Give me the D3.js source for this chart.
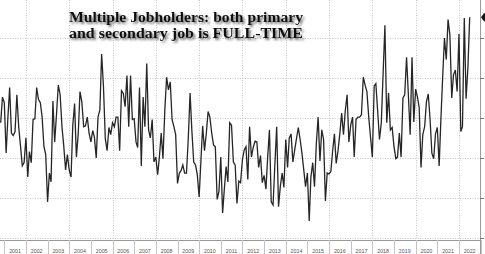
<!DOCTYPE html>
<html><head><meta charset="utf-8">
<script src="https://cdn.jsdelivr.net/npm/d3@7"></script>
<style>
html,body{margin:0;padding:0;background:#fff;}
svg{display:block;}
</style></head>
<body>
<script>
// Monthly series: multiple jobholders, primary & secondary job both full-time (thousands)
// First value = Nov 2000, last = Jul 2022
const seriesStart = [2000, 10]; // year, month index (0-based)
const values = [
294,326,
319,256,298,338,281,278,283,329,289,265,240,244,
275,226,258,244,298,299,338,323,319,301,264,254,
195,231,220,321,270,305,341,329,289,265,235,254,
235,226,290,318,251,280,333,320,289,290,301,281,
270,284,276,250,301,310,380,339,274,259,288,279,
294,289,301,301,259,334,331,314,353,289,353,298,
299,270,263,338,240,326,289,368,285,275,298,245,
251,229,251,281,249,310,351,335,345,298,289,279,
218,231,234,241,231,231,273,331,283,245,241,229,
201,248,290,259,280,308,301,281,266,264,198,208,
251,181,210,239,220,294,291,245,241,193,221,219,
248,260,264,223,289,251,263,271,270,238,253,219,
228,211,250,285,195,191,241,289,189,214,231,213,
273,238,275,280,245,260,274,288,273,256,235,214,
231,171,226,244,214,268,301,246,285,273,196,231,
230,233,258,280,243,259,280,306,279,309,329,270,
291,301,251,298,301,301,304,351,341,333,301,276,
251,340,343,308,273,294,355,416,294,331,285,288,
264,249,251,281,251,325,329,376,328,279,376,295,
336,326,313,238,279,289,320,330,298,256,249,280,
288,240,296,351,400,373,423,404,325,354,360,333,
405,283,289,425,324,363,426
];
const years = [2001,2002,2003,2004,2005,2006,2007,2008,2009,2010,2011,2012,2013,2014,2015,2016,2017,2018,2019,2020,2021,2022];
const yTicks = [150,200,250,300,350,400];
const titleLines = ["Multiple Jobholders: both primary", "and secondary job is FULL-TIME"];

const W = 485, H = 254;
const plotLeft = 0, plotRight = 480, plotTop = 0, plotBottom = 240;

const data = values.map((v,i)=>({date:new Date(seriesStart[0], seriesStart[1]+i, 1), value:v}));

const x = d3.scaleTime().domain([new Date(2001,0,1), new Date(2023,0,1)]).range([4.3, 480.6]);
const y = d3.scaleLinear().domain([150,400]).range([237.8, 38]);

const svg = d3.select("body").append("svg").attr("width",W).attr("height",H);
const defs = svg.append("defs");
defs.append("clipPath").attr("id","plotclip").append("rect")
  .attr("x",plotLeft).attr("y",plotTop).attr("width",plotRight-plotLeft).attr("height",plotBottom-plotTop);
const f = defs.append("filter").attr("id","shadow").attr("x","-10%").attr("y","-30%").attr("width","130%").attr("height","180%");
f.append("feDropShadow").attr("dx",1.8).attr("dy",2).attr("stdDeviation",1.2).attr("flood-color","#444").attr("flood-opacity",0.8);

// horizontal grid
svg.append("g").selectAll("line").data(yTicks).join("line")
  .attr("x1",plotLeft).attr("x2",plotRight)
  .attr("y1",d=>Math.round(y(d))+0.5).attr("y2",d=>Math.round(y(d))+0.5)
  .attr("stroke","#c4c4c4").attr("stroke-width",1).attr("stroke-dasharray","1,1.5");

// vertical grid at even years
const gridYears = years.filter(yr=>yr%2===0);
svg.append("g").selectAll("line").data(gridYears).join("line")
  .attr("x1",d=>Math.round(x(new Date(d,0,1)))+0.5).attr("x2",d=>Math.round(x(new Date(d,0,1)))+0.5)
  .attr("y1",plotTop).attr("y2",plotBottom)
  .attr("stroke","#c4c4c4").attr("stroke-width",1).attr("stroke-dasharray","1,1.5");

// bottom axis line
svg.append("line").attr("x1",0).attr("x2",plotRight).attr("y1",plotBottom+0.5).attr("y2",plotBottom+0.5)
  .attr("stroke","#9a9a9a").attr("stroke-width",1);
// year separators
const seps = years.concat([2023]);
svg.append("g").selectAll("line").data(seps).join("line")
  .attr("x1",d=>Math.round(x(new Date(d,0,1)))+0.5).attr("x2",d=>Math.round(x(new Date(d,0,1)))+0.5)
  .attr("y1",plotBottom).attr("y2",H)
  .attr("stroke","#c4c4c4").attr("stroke-width",1);
// year labels
svg.append("g").selectAll("text").data(years).join("text")
  .attr("x",d=>x(new Date(d,6,1))).attr("y",252.5)
  .attr("text-anchor","middle").attr("font-family","Liberation Sans, Arial, sans-serif")
  .attr("font-size","5.3px").attr("fill","#555").text(d=>d);

// right axis
svg.append("line").attr("x1",plotRight+0.5).attr("x2",plotRight+0.5).attr("y1",0).attr("y2",H)
  .attr("stroke","#9a9a9a").attr("stroke-width",1);
svg.append("g").selectAll("line").data(yTicks).join("line")
  .attr("x1",plotRight).attr("x2",plotRight+4)
  .attr("y1",d=>Math.round(y(d))+0.5).attr("y2",d=>Math.round(y(d))+0.5)
  .attr("stroke","#777").attr("stroke-width",1);
svg.append("g").selectAll("text").data(yTicks).join("text")
  .attr("x",plotRight+5).attr("y",d=>y(d)+2)
  .attr("font-family","Liberation Sans, Arial, sans-serif").attr("font-size","6px").attr("fill","#444").text(d=>d);

// line
const line = d3.line().x(d=>x(d.date)).y(d=>y(d.value));
svg.append("path").datum(data).attr("clip-path","url(#plotclip)")
  .attr("d",line).attr("fill","none").attr("stroke","#262626").attr("stroke-width",1.3).attr("stroke-linejoin","miter");

// last value tag
const last = data[data.length-1];
const ly = y(last.value);
svg.append("path").attr("d",`M${plotRight+1},${ly} L${plotRight+4},${ly-4} L${plotRight+30},${ly-4} L${plotRight+30},${ly+4} L${plotRight+4},${ly+4} Z`)
  .attr("fill","#111");
svg.append("text").attr("x",plotRight+5).attr("y",ly+2.2).attr("font-family","Liberation Sans, Arial, sans-serif")
  .attr("font-size","6px").attr("fill","#fff").text(last.value);

// title
const tg = svg.append("g").attr("filter","url(#shadow)");
tg.selectAll("text").data(titleLines).join("text")
  .attr("x",69).attr("y",(d,i)=>21.5+i*16.8)
  .attr("font-family","Liberation Serif, 'Times New Roman', serif").attr("font-weight","bold")
  .attr("font-size","14px").attr("fill","#111")
  .attr("textLength",234).attr("lengthAdjust","spacingAndGlyphs")
  .text(d=>d);
</script>
</body></html>
